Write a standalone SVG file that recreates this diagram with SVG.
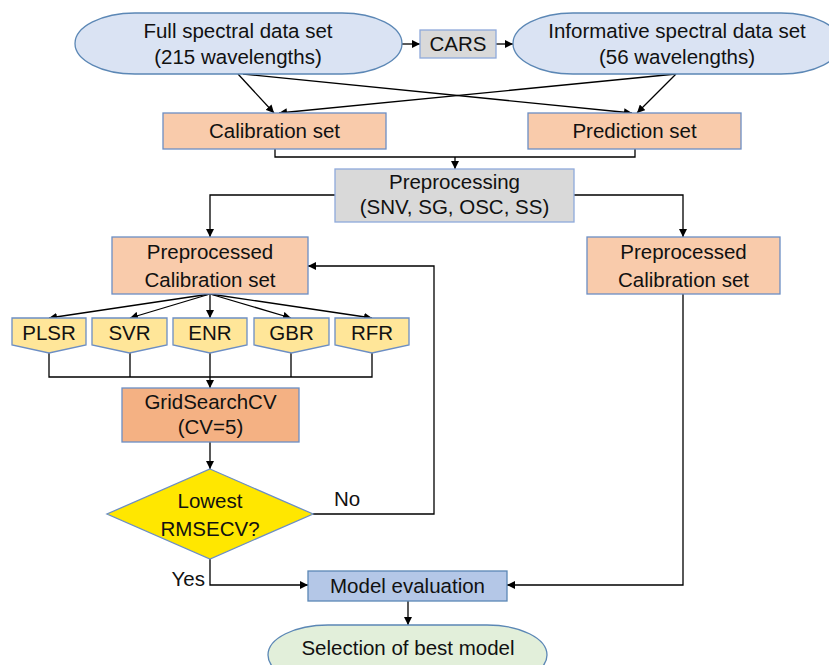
<svg xmlns="http://www.w3.org/2000/svg" width="829" height="665" viewBox="0 0 829 665">
<defs>
<marker id="ah" viewBox="0 0 10 10" refX="10" refY="5" markerWidth="8" markerHeight="8" markerUnits="userSpaceOnUse" orient="auto">
<path d="M0,0 L10,5 L0,10 z" fill="#000"/>
</marker>
<style>
text{font-family:"Liberation Sans",Arial,sans-serif;font-size:20.5px;fill:#111;text-anchor:middle}
.ell{fill:#DAE3F3;stroke:#5B87B5;stroke-width:1.3}
.org{fill:#F9CBAB;stroke:#6C8EC4;stroke-width:1.3}
.gry{fill:#D9D9D9;stroke:#8EA9DB;stroke-width:1.3}
.yel{fill:#FFE699;stroke:#6C8EC4;stroke-width:1.3}
.c{fill:none;stroke:#000;stroke-width:1.3}
.a{marker-end:url(#ah)}
</style>
</defs>
<rect width="829" height="665" fill="#fff"/>
<g id="connectors">
<path class="c a" d="M402,44 H420"/>
<path class="c a" d="M496,44 H513"/>
<path class="c a" d="M238,74 L274,113"/>
<path class="c a" d="M243,74 L632,113"/>
<path class="c a" d="M676,74 L637,113"/>
<path class="c a" d="M676,74 L279,113"/>
<path class="c" d="M275,149 V157 H635 V149"/>
<path class="c a" d="M455,157 V169"/>
<path class="c a" d="M335,195 H210 V237"/>
<path class="c a" d="M574,195 H683 V237"/>
<path class="c a" d="M210,294 L49,318"/>
<path class="c a" d="M210,294 L130,318"/>
<path class="c a" d="M210,294 V318"/>
<path class="c a" d="M210,294 L291,318"/>
<path class="c a" d="M210,294 L372,318"/>
<path class="c" d="M49,353 V377 H372 V353 M130,353 V377 M291,353 V377"/>
<path class="c a" d="M210,353 V388"/>
<path class="c a" d="M210,442 V469"/>
<path class="c a" d="M313,514 H434 V266 H308"/>
<path class="c a" d="M210,559 V585 H308"/>
<path class="c a" d="M683,294 V585 H507"/>
<path class="c a" d="M408,601 V625"/>
</g>
<g id="full">
<path class="ell" d="M135,13 H342 A60,30.5 0 0 1 342,74 H135 A60,30.5 0 0 1 135,13 Z"/>
<text x="238" y="38">Full spectral data set</text>
<text x="238" y="64">(215 wavelengths)</text>
</g>
<g id="cars">
<rect class="gry" x="420" y="30" width="76" height="28"/>
<text x="458" y="51">CARS</text>
</g>
<g id="informative">
<path class="ell" d="M573,13 H781 A60,30.5 0 0 1 781,74 H573 A60,30.5 0 0 1 573,13 Z"/>
<text x="677" y="38">Informative spectral data set</text>
<text x="677" y="64">(56 wavelengths)</text>
</g>
<g id="calibration">
<rect class="org" x="163" y="113" width="223" height="36"/>
<text x="274.5" y="138">Calibration set</text>
</g>
<g id="prediction">
<rect class="org" x="528" y="113" width="213" height="36"/>
<text x="634.5" y="138">Prediction set</text>
</g>
<g id="preprocessing">
<rect class="gry" x="335" y="169" width="239" height="53"/>
<text x="454.5" y="189">Preprocessing</text>
<text x="454.5" y="214">(SNV, SG, OSC, SS)</text>
</g>
<g id="prep-cal-left">
<rect class="org" x="112" y="237" width="196" height="57"/>
<text x="210" y="259">Preprocessed</text>
<text x="210" y="287">Calibration set</text>
</g>
<g id="prep-cal-right">
<rect class="org" x="587" y="237" width="193" height="57"/>
<text x="683.5" y="259">Preprocessed</text>
<text x="683.5" y="287">Calibration set</text>
</g>
<g id="plsr">
<path class="yel" d="M12,318 H86 V345 L49,353 L12,345 Z"/>
<text x="49" y="340">PLSR</text>
</g>
<g id="svr">
<path class="yel" d="M92,318 H167 V345 L129.5,353 L92,345 Z"/>
<text x="129.5" y="340">SVR</text>
</g>
<g id="enr">
<path class="yel" d="M173,318 H247 V345 L210,353 L173,345 Z"/>
<text x="210" y="340">ENR</text>
</g>
<g id="gbr">
<path class="yel" d="M254,318 H329 V345 L291.5,353 L254,345 Z"/>
<text x="291.5" y="340">GBR</text>
</g>
<g id="rfr">
<path class="yel" d="M335,318 H409 V345 L372,353 L335,345 Z"/>
<text x="372" y="340">RFR</text>
</g>
<g id="gridsearch">
<rect x="122" y="388" width="177" height="54" fill="#F4B183" stroke="#6C8EC4" stroke-width="1.3"/>
<text x="210.5" y="409">GridSearchCV</text>
<text x="210.5" y="434">(CV=5)</text>
</g>
<g id="decision">
<path d="M210,469 L313,514 L210,559 L107,514 Z" fill="#FFE700" stroke="#6C8EC4" stroke-width="1.3"/>
<text x="210" y="508">Lowest</text>
<text x="210" y="536">RMSECV?</text>
</g>
<g id="labels">
<text x="347" y="506">No</text>
<text x="205" y="586" style="text-anchor:end">Yes</text>
</g>
<g id="model-eval">
<rect x="308" y="571" width="199" height="30" fill="#B4C7E7" stroke="#5B87B5" stroke-width="1.3"/>
<text x="407.5" y="593">Model evaluation</text>
</g>
<g id="selection">
<path d="M328,625 H487 A60,30 0 0 1 487,685 H328 A60,30 0 0 1 328,625 Z" fill="#E2EFDA" stroke="#5B87B5" stroke-width="1.3"/>
<text x="408" y="655">Selection of best model</text>
</g>
</svg>
